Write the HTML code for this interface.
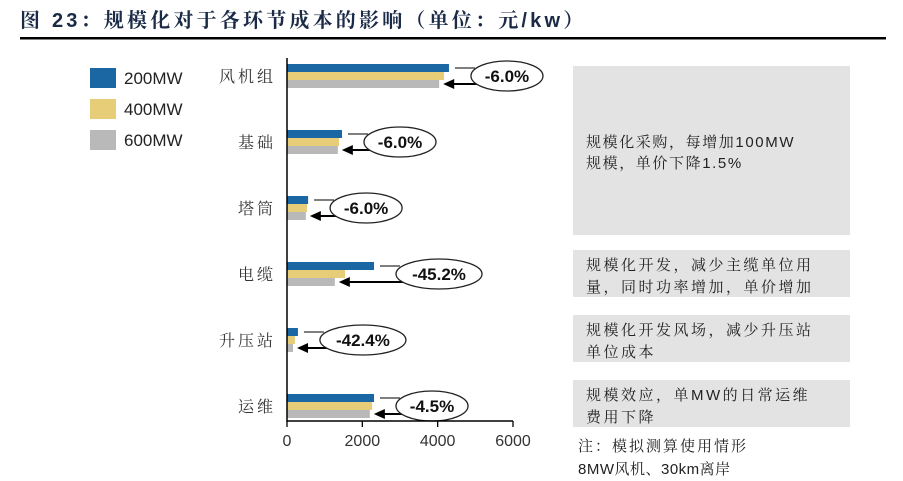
<!DOCTYPE html>
<html><head><meta charset="utf-8"><style>
body{margin:0;background:#fff;width:903px;height:481px;overflow:hidden}
svg{display:block}
.cj{font-family:"Liberation Sans","Noto Serif CJK SC","Noto Sans CJK SC",sans-serif}
</style></head><body>
<svg width="903" height="481" viewBox="0 0 903 481" id="chart">
<text x="20" y="27" font-size="20" font-weight="bold" fill="#1b2a47" class="cj" letter-spacing="3.2">图 23：规模化对于各环节成本的影响（单位：元/kw）</text>
<rect x="20" y="37" width="866" height="2.5" fill="#000"/>
<g>
<rect x="90" y="68" width="26" height="20" fill="#1a67a3"/>
<text x="124" y="84" font-size="17" fill="#222" font-family="Liberation Sans, sans-serif">200MW</text>
<rect x="90" y="99" width="26" height="20" fill="#e8cd78"/>
<text x="124" y="115" font-size="17" fill="#222" font-family="Liberation Sans, sans-serif">400MW</text>
<rect x="90" y="130" width="26" height="20" fill="#b9b9b9"/>
<text x="124" y="146" font-size="17" fill="#222" font-family="Liberation Sans, sans-serif">600MW</text>
</g>
<g id="plot"></g>
<g font-size="15" fill="#222" class="cj" letter-spacing="2.5">
<rect x="573" y="66" width="277" height="169" fill="#e3e3e3"/>
<text x="586" y="147" letter-spacing="1.6">规模化采购，每增加100MW</text>
<text x="586" y="168" letter-spacing="1.6">规模，单价下降1.5%</text>
<rect x="573" y="250" width="277" height="47" fill="#e3e3e3"/>
<text x="586" y="270">规模化开发，减少主缆单位用</text>
<text x="586" y="292">量，同时功率增加，单价增加</text>
<rect x="573" y="315" width="277" height="47" fill="#e3e3e3"/>
<text x="586" y="335">规模化开发风场，减少升压站</text>
<text x="586" y="357">单位成本</text>
<rect x="573" y="380" width="277" height="47" fill="#e3e3e3"/>
<text x="586" y="400">规模效应，单MW的日常运维</text>
<text x="586" y="422">费用下降</text>
<text x="578" y="451" letter-spacing="2">注：模拟测算使用情形</text>
<text x="578" y="474" letter-spacing="0.5">8MW风机、30km离岸</text>
</g>
</svg>
<script>
const categories=["风机组","基础","塔筒","电缆","升压站","运维"];
const s200=[4300,1460,560,2310,290,2310];
const s400=[4170,1380,530,1540,210,2260];
const s600=[4040,1350,500,1270,160,2200];
const changeLabels=["-6.0%","-6.0%","-6.0%","-45.2%","-42.4%","-4.5%"];
const xTicks=[0,2000,4000,6000];
const NS="http://www.w3.org/2000/svg";
const g=document.getElementById('plot');
const x0=287,x1=513,xMax=6000;
const xs=v=>x0+v/xMax*(x1-x0);
const gy=i=>76+i*66;
function mk(t,a){const e=document.createElementNS(NS,t);for(const k in a)e.setAttribute(k,a[k]);g.appendChild(e);return e;}
const cols=["#1a67a3","#e8cd78","#b9b9b9"],series=[s200,s400,s600],sn=["200mw","400mw","600mw"];
categories.forEach((c,i)=>{
 const cy=gy(i);
 let t=mk('text',{x:276,y:cy+6,'font-size':16,'text-anchor':'end',fill:'#333',class:'cj','letter-spacing':3});t.textContent=c;
 
 
 series.forEach((s,j)=>{
  const r=mk('rect',{x:x0,y:cy-12+j*8,width:xs(s[i])-x0,height:8,fill:cols[j]});
  
  
 });
 const e1=xs(s200[i])+6,e3=xs(s600[i])+4;
 const w=changeLabels[i].length>5?86:72;
 const ecx=Math.max(e1,e3)+16+w/2;
 const l1=mk('line',{x1:e1,y1:cy-8,x2:ecx-w/2+4,y2:cy-8,stroke:'#333','stroke-width':1.3});
 
 
 const l2=mk('line',{x1:ecx-w/4,y1:cy+8,x2:e3+8,y2:cy+8,stroke:'#000','stroke-width':2});
 
 
 const p=mk('polygon',{points:`${e3},${cy+8} ${e3+11},${cy+3} ${e3+11},${cy+13}`,fill:'#000'});
 
 
 const el=mk('ellipse',{cx:ecx,cy:cy,rx:w/2,ry:15,fill:'#fff',stroke:'#222','stroke-width':1.3});
 
 
 const tt=mk('text',{x:ecx,y:cy+6,'text-anchor':'middle','font-size':17,'font-weight':'bold','font-family':'Liberation Sans, sans-serif',fill:'#111'});
 tt.textContent=changeLabels[i];
 
 
});
const ya=mk('line',{x1:x0,y1:58,x2:x0,y2:422,stroke:'#000','stroke-width':1.5});


const xa=mk('line',{x1:x0,y1:421,x2:x1,y2:421,stroke:'#000','stroke-width':1.5});


xTicks.forEach(v=>{
 const tk=mk('line',{x1:xs(v),y1:421,x2:xs(v),y2:427,stroke:'#000','stroke-width':1.3});
 
 
 const tl=mk('text',{x:xs(v),y:446,'text-anchor':'middle','font-size':16,'font-family':'Liberation Sans, sans-serif',fill:'#333'});
 tl.textContent=v;
 
 
});
</script>
</body></html>
